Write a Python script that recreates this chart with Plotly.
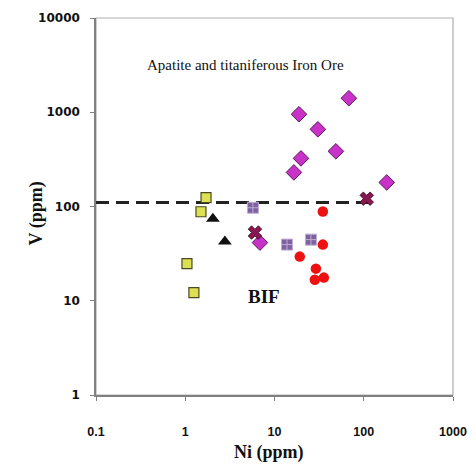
import plotly.graph_objects as go

# Data (Ni ppm, V ppm)
yellow_ni = [1.71, 1.50, 1.045, 1.25]
yellow_v = [124, 88, 24.8, 12.2]

tri_ni = [2.04, 2.78]
tri_v = [74, 42.4]

purple_ni = [5.73, 13.8, 25.6]
purple_v = [97, 39.4, 44.5]

cross_ni = [6.04, 108]
cross_v = [52.9, 121]

diamond_ni = [6.87, 18.8, 30.6, 48.7, 19.8, 16.5, 68.1, 181]
diamond_v = [41.4, 952, 659, 385, 324, 230, 1409, 180]

red_ni = [34.8, 19.2, 34.8, 29.1, 28.3, 35.7]
red_v = [88.5, 29.4, 39.4, 21.9, 16.7, 17.6]

line_ni = [0.1, 120]
line_v = [110, 110]

x_ticks = [0.1, 1, 10, 100, 1000]
x_ticklabels = ["0.1", "1", "10", "100", "1000"]
y_ticks = [1, 10, 100, 1000, 10000]
y_ticklabels = ["1", "10", "100", "1000", "10000"]

fig = go.Figure()

fig.add_trace(go.Scatter(x=line_ni, y=line_v, mode="lines",
                         line=dict(color="#222222", width=3, dash="13px,7px"),
                         showlegend=False, hoverinfo="skip"))

fig.add_trace(go.Scatter(x=yellow_ni, y=yellow_v, mode="markers",
                         marker=dict(symbol="square", size=10, color="#dde052",
                                     line=dict(color="#4a4a20", width=1.2)),
                         showlegend=False))
fig.add_trace(go.Scatter(x=tri_ni, y=tri_v, mode="markers",
                         marker=dict(symbol="triangle-up", size=12, color="#111111",
                                     line=dict(color="#111111", width=0)),
                         showlegend=False))
fig.add_trace(go.Scatter(x=purple_ni, y=purple_v, mode="markers",
                         marker=dict(symbol="square-cross", size=11, color="#7e62a0",
                                     line=dict(color="#c0aed6", width=1)),
                         showlegend=False))
fig.add_trace(go.Scatter(x=diamond_ni, y=diamond_v, mode="markers",
                         marker=dict(symbol="diamond", size=12, color="#c832c8",
                                     line=dict(color="#5a1a5a", width=1)),
                         showlegend=False))
fig.add_trace(go.Scatter(x=red_ni, y=red_v, mode="markers",
                         marker=dict(symbol="circle", size=10.5, color="#ee1111",
                                     line=dict(width=0)),
                         showlegend=False))
fig.add_trace(go.Scatter(x=cross_ni, y=cross_v, mode="markers",
                         marker=dict(symbol="x", size=12, color="#8a1850",
                                     line=dict(color="#3a0a20", width=0.8)),
                         showlegend=False))

axis_font = dict(family="DejaVu Sans", size=12, color="#111111", weight="bold")
x_axis_font = dict(family="Liberation Sans", size=12.5, color="#111111", weight="bold")

fig.update_xaxes(type="log", range=[-1, 3], tickvals=x_ticks, ticktext=x_ticklabels,
                 showgrid=False, zeroline=False, showline=True, linecolor="#808080",
                 linewidth=1.5, ticks="outside", ticklen=4, tickcolor="#808080",
                 tickfont=x_axis_font, ticklabelstandoff=20,
                 ticklabeloverflow="allow", automargin=False)
fig.update_yaxes(type="log", range=[0, 4], tickvals=y_ticks, ticktext=y_ticklabels,
                 showgrid=False, zeroline=False, showline=True, linecolor="#808080",
                 linewidth=1.5, ticks="outside", ticklen=4, tickcolor="#808080",
                 tickfont=axis_font, ticklabelstandoff=8,
                 ticklabeloverflow="allow", automargin=False)

fig.add_shape(type="rect", xref="paper", yref="paper", x0=0, x1=1, y0=0, y1=1,
              line=dict(color="#b0b0b0", width=1.2), layer="below")

serif = "Liberation Serif"
fig.add_annotation(text="Apatite and titaniferous Iron Ore", xref="paper", yref="paper",
                   x=0.42, y=0.902, showarrow=False,
                   font=dict(family=serif, size=15, color="#111111"))
fig.add_annotation(text="<b>BIF</b>", xref="paper", yref="paper",
                   x=0.47, y=0.228, showarrow=False,
                   font=dict(family=serif, size=19, color="#111111"))
fig.add_annotation(text="<b>Ni (ppm)</b>", xref="paper", yref="paper",
                   x=0.485, y=-0.186, showarrow=False,
                   font=dict(family=serif, size=18, color="#111111"))
fig.add_annotation(text="<b>V (ppm)</b>", xref="paper", yref="paper",
                   x=-0.2017, y=0.483, showarrow=False, textangle=-90,
                   font=dict(family=serif, size=18, color="#111111"))

# page body has an 8px default margin; keep the figure inside the window
fig.update_layout(width=459, height=459, margin=dict(l=88, r=14, t=10, b=72),
                  paper_bgcolor="white", plot_bgcolor="white")

fig.write_html("out.html")
